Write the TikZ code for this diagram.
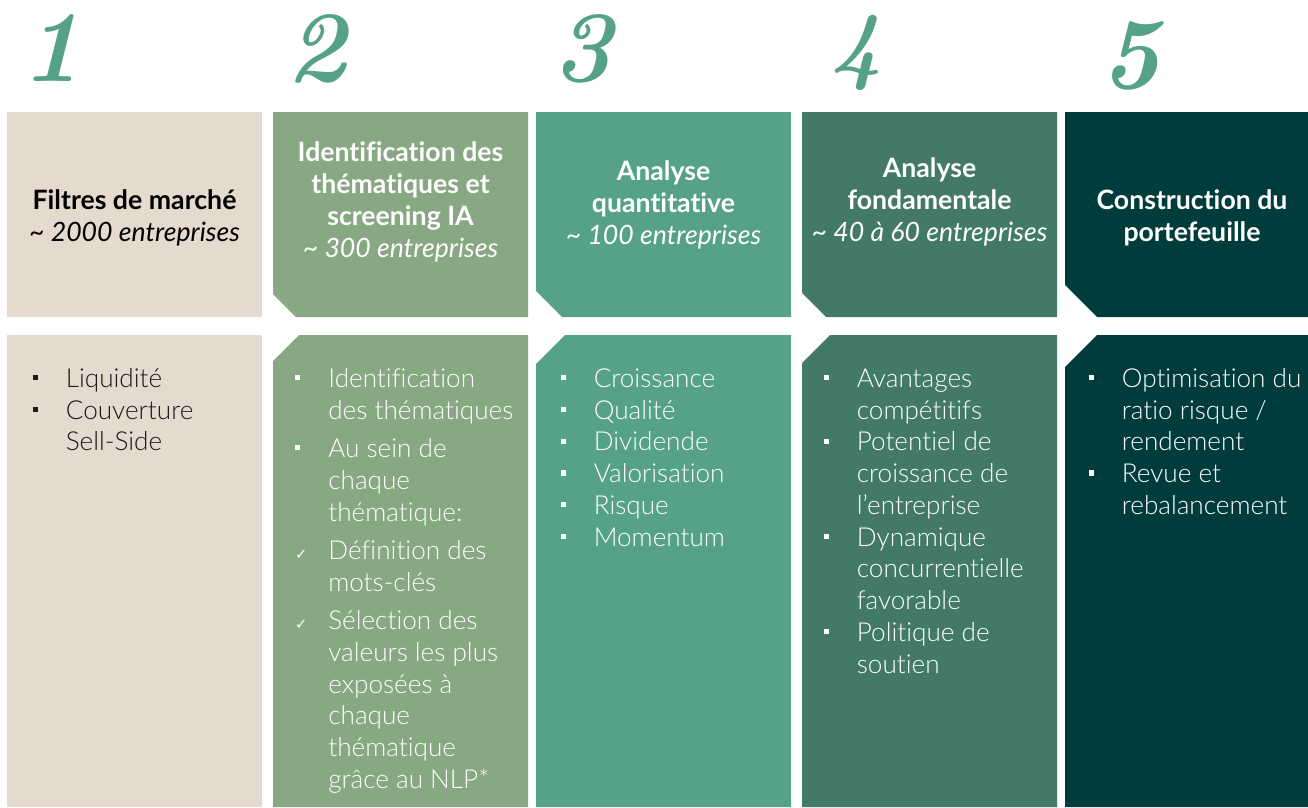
\documentclass[tikz,border=0pt]{standalone}
\usepackage{fontspec}
\setmainfont{Lato}[Ligatures=NoCommon]
\newfontfamily\lightfont{Lato Light}[Ligatures=NoCommon]
\newfontfamily\numfont{Latin Modern Roman}[Numbers=Lining]
\newfontfamily\symfont{DejaVu Sans}

\definecolor{beige}{HTML}{E6D9CE}
\definecolor{sage}{HTML}{88A783}
\definecolor{jade}{HTML}{55A286}
\definecolor{pine}{HTML}{427A65}
\definecolor{forest}{HTML}{013C3C}
\definecolor{inkdark}{HTML}{1A1A1A}

\newcommand{\titlefont}{\fontsize{20}{24}\selectfont}
\newcommand{\listfont}{\lightfont\fontsize{19.6}{23.8}\selectfont}
\newcommand{\stepnum}{\numfont\bfseries\itshape\fontsize{76}{80}\selectfont}
\newcommand{\sqb}{\makebox[25pt][l]{\rule[5.4pt]{3.8pt}{3.8pt}}}
\newcommand{\ckb}{\makebox[25pt][l]{{\symfont\fontsize{11}{12}\selectfont ✓}}}
\newcommand{\ind}{\hspace*{25pt}}

\tikzset{every picture/.style={line width=0.75pt}}

\begin{document}
\begin{tikzpicture}[x=0.75pt,y=0.75pt,yscale=-1,xscale=1]
\useasboundingbox (0,0) rectangle (1308,807);

%Shape: Rectangle [id:top1] 
\fill [beige] (7,112) -- (262,112) -- (262,317) -- (7,317) -- cycle ;
%Shape: Polygon [id:top2] 
\fill [sage] (273,112) -- (528,112) -- (528,317) -- (296,317) -- (273,294) -- cycle ;
%Shape: Polygon [id:top3] 
\fill [jade] (536,112) -- (791,112) -- (791,317) -- (562,317) -- (536,291) -- cycle ;
%Shape: Polygon [id:top4] 
\fill [pine] (802,112) -- (1057,112) -- (1057,317) -- (826,317) -- (802,293) -- cycle ;
%Shape: Polygon [id:top5] 
\fill [forest] (1065,112) -- (1320,112) -- (1320,317) -- (1097,317) -- (1065,285) -- cycle ;

%Shape: Rectangle [id:bot1] 
\fill [beige] (7,335) -- (262,335) -- (262,807) -- (7,807) -- cycle ;
%Shape: Polygon [id:bot2] 
\fill [sage] (299,335) -- (528,335) -- (528,807) -- (273,807) -- (273,361) -- cycle ;
%Shape: Polygon [id:bot3] 
\fill [jade] (565,335) -- (791,335) -- (791,807) -- (536,807) -- (536,364) -- cycle ;
%Shape: Polygon [id:bot4] 
\fill [pine] (830,335) -- (1057,335) -- (1057,807) -- (802,807) -- (802,363) -- cycle ;
%Shape: Polygon [id:bot5] 
\fill [forest] (1097,335) -- (1320,335) -- (1320,807) -- (1065,807) -- (1065,367) -- cycle ;

% Text Node
\draw (51,81) node [anchor=base][inner sep=0pt][text=jade] (n1) {\stepnum 1};
% Text Node
\draw (316,81) node [anchor=base][inner sep=0pt][text=jade] (n2) {\stepnum 2};
% Text Node
\draw (582,81) node [anchor=base][inner sep=0pt][text=jade] (n3) {\stepnum 3};
% Text Node
\draw (856,73) node [anchor=base][inner sep=0pt][text=jade] (n4) {\stepnum\fontsize{66}{70}\selectfont 4};
% Text Node
\draw (1130,88) node [anchor=base][inner sep=0pt][text=jade] (n5) {\stepnum 5};

% Text Node
\draw (134.5,219) node [inner sep=0.75pt] [align=left] (h1) {\begin{minipage}[c]{188pt}\setlength\topsep{0pt}
\begin{center}
\titlefont\color{black}{\bfseries Filtres de marché}\\{\itshape \textasciitilde\ 2000 entreprises}
\end{center}
\end{minipage}};
% Text Node
\draw (400.5,203) node [inner sep=0.75pt] [align=left] (h2) {\begin{minipage}[c]{188pt}\setlength\topsep{0pt}
\begin{center}
\titlefont\color{white}{\bfseries Identification des}\\{\bfseries thématiques et}\\{\bfseries screening IA}\\{\itshape \textasciitilde\ 300 entreprises}
\end{center}
\end{minipage}};
% Text Node
\draw (663.5,206) node [inner sep=0.75pt] [align=left] (h3) {\begin{minipage}[c]{188pt}\setlength\topsep{0pt}
\begin{center}
\titlefont\color{white}{\bfseries Analyse}\\{\bfseries quantitative}\\{\itshape \textasciitilde\ 100 entreprises}
\end{center}
\end{minipage}};
% Text Node
\draw (929.5,203) node [inner sep=0.75pt] [align=left] (h4) {\begin{minipage}[c]{188pt}\setlength\topsep{0pt}
\begin{center}
\titlefont\color{white}{\bfseries Analyse}\\{\bfseries fondamentale}\\{\itshape \textasciitilde\ 40 à 60 entreprises}
\end{center}
\end{minipage}};
% Text Node
\draw (1192,219) node [inner sep=0.75pt] [align=left] (h5) {\begin{minipage}[c]{188pt}\setlength\topsep{0pt}
\begin{center}
\titlefont\color{white}{\bfseries Construction du}\\{\bfseries portefeuille}
\end{center}
\end{minipage}};

% Text Node
\draw (32,387.5) node [anchor=base west][inner sep=0pt][font=\listfont][text=inkdark] (l1) {\begin{minipage}[t]{200pt}
\sqb Liquidité\\
\sqb Couverture\\
\ind Sell-Side
\end{minipage}};
% Text Node
\draw (294.5,387.5) node [anchor=base west][inner sep=0pt][font=\listfont][text=white] (l2) {\begin{minipage}[t]{200pt}
\sqb Identification\\
\ind des thématiques\\[5pt]
\sqb Au sein de\\
\ind chaque\\
\ind thématique:\\[5pt]
\ckb Définition des\\
\ind mots-clés\\[5pt]
\ckb Sélection des\\
\ind valeurs les plus\\
\ind exposées à\\
\ind chaque\\
\ind thématique\\
\ind grâce au NLP*
\end{minipage}};
% Text Node
\draw (560,387.5) node [anchor=base west][inner sep=0pt][font=\listfont][text=white] (l3) {\begin{minipage}[t]{200pt}
\sqb Croissance\\
\sqb Qualité\\
\sqb Dividende\\
\sqb Valorisation\\
\sqb Risque\\
\sqb Momentum
\end{minipage}};
% Text Node
\draw (823,387.5) node [anchor=base west][inner sep=0pt][font=\listfont][text=white] (l4) {\begin{minipage}[t]{200pt}
\sqb Avantages\\
\ind compétitifs\\
\sqb Potentiel de\\
\ind croissance de\\
\ind l’entreprise\\
\sqb Dynamique\\
\ind concurrentielle\\
\ind favorable\\
\sqb Politique de\\
\ind soutien
\end{minipage}};
% Text Node
\draw (1088,387.5) node [anchor=base west][inner sep=0pt][font=\listfont][text=white] (l5) {\begin{minipage}[t]{200pt}
\sqb Optimisation du\\
\ind ratio risque /\\
\ind rendement\\
\sqb Revue et\\
\ind rebalancement
\end{minipage}};

\end{tikzpicture}
\end{document}
